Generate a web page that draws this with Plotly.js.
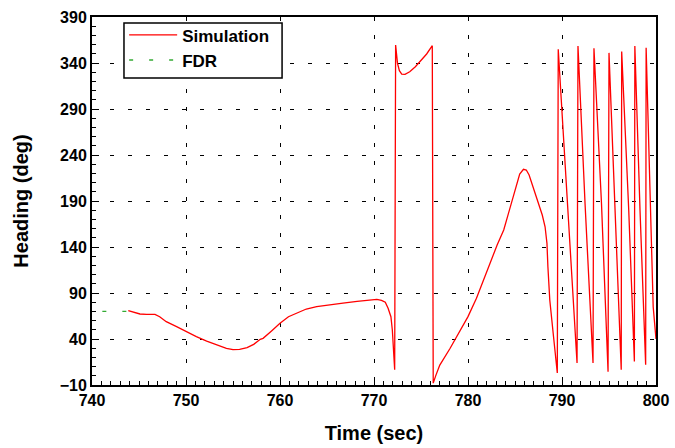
<!DOCTYPE html>
<html>
<head>
<meta charset="utf-8">
<script src="https://cdn.plot.ly/plotly-3.0.1.min.js"></script>
<style>html,body{margin:0;padding:0;background:#fff;}#chart{width:675px;height:448px;}</style>
</head>
<body>
<div id="chart"></div>
<script>
// Simulation heading (deg) vs time (sec)
const simTime = [
  743.86, 744.4, 745.1, 745.8, 746.7, 747.2, 747.9, 749.0, 750.0, 751.1, 752.2, 753.3, 754.3, 755.0, 755.7, 756.5, 757.2, 757.9,
  758.2, 759.1, 760.0, 760.9, 761.8, 762.8, 763.9, 765.3, 766.7, 768.2, 769.6, 770.3, 770.8, 771.2, 771.5, 771.8, 771.95, 772.05, 772.2,
  772.3, 772.5, 772.7, 772.95, 773.3, 773.8, 774.4, 774.9, 775.6, 776.2,
  776.3, 776.6, 777.0, 778.1, 779.1, 780.0, 780.9, 781.6, 782.3, 783.1, 783.8, 784.1, 784.6, 785.2, 785.5, 785.9, 786.2, 786.5, 786.9,
  787.5, 787.9, 788.2, 788.4, 788.5, 788.7, 789.1, 789.5,
  789.6, 790.6, 791.6,
  791.7, 792.45, 793.3,
  793.4, 794.2, 794.9,
  795.0, 795.6, 796.3,
  796.35, 797.1, 797.7,
  797.75, 798.3, 798.9,
  798.95, 799.7, 800.0];
const simHeading = [
  70.8, 69.0, 67.2, 66.8, 66.8, 64.2, 58.8, 53.4, 48.0, 42.5, 37.8, 33.5, 29.9, 28.4, 28.8, 30.6, 34.2, 39.7,
  40.7, 48.7, 57.0, 64.2, 68.6, 72.6, 75.1, 77.3, 79.1, 81.0, 82.7, 83.1, 82.0, 79.9, 73.4, 64.2, 49.8, 31.6, 6.5,
  359.6, 339.7, 331.6, 328.0, 327.7, 330.5, 336.0, 341.4, 349.8, 358.8,
  -8.0, 1.0, 11.7, 29.9, 48.0, 64.3, 84.2, 102.3, 122.3, 142.2, 158.5, 169.3, 187.5, 207.4, 219.3, 224.5, 223.7, 218.3, 206.3,
  189.3, 174.8, 162.0, 144.0, 118.6, 82.4, 42.5, 3.0,
  355.0, 188.0, 14.0,
  358.5, 187.5, 14.0,
  356.0, 187.5, 4.5,
  351.0, 187.5, 6.5,
  352.6, 180.0, 15.5,
  358.5, 180.0, 12.0,
  356.6, 75.0, 40.0];
// FDR heading (deg) vs time (sec)
const fdrTime = [741.1, 744.0];
const fdrHeading = [70.0, 70.0];

const seriesNames = ['Simulation', 'FDR'];
const xTitle = 'Time (sec)';
const yTitle = 'Heading (deg)';

const fontFam = 'Liberation Sans, Arial, Helvetica, sans-serif';

const traces = [
  {x: simTime, y: simHeading, type: 'scatter', mode: 'lines', name: seriesNames[0],
   line: {color: '#ff0000', width: 1.3}},
  {x: fdrTime, y: fdrHeading, type: 'scatter', mode: 'lines', name: seriesNames[1],
   line: {color: '#33aa33', width: 1.4, dash: '4px,16px'}}
];

const axisCommon = {
  showline: true, linecolor: '#000', linewidth: 2, mirror: true,
  showgrid: true, gridcolor: '#000', gridwidth: 1, griddash: '4px,14px',
  zeroline: false, ticks: 'inside', ticklen: 7, tickcolor: '#000', tickwidth: 1,
  tickfont: {family: fontFam, size: 16, color: '#000', weight: 'bold'}
};

const layout = {
  width: 675, height: 448,
  margin: {l: 92, r: 19, t: 17, b: 63},
  paper_bgcolor: '#fff', plot_bgcolor: '#fff',
  showlegend: true,
  legend: {x: 0.057, y: 0.999, xanchor: 'left', yanchor: 'top',
    bgcolor: 'rgba(0,0,0,0)', borderwidth: 0, itemwidth: 48,
    font: {family: fontFam, size: 17, color: '#000', weight: 'bold'}},
  shapes: [
    {type: 'rect', xref: 'paper', yref: 'paper', x0: 0.0567, x1: 0.337, y0: 0.834, y1: 0.984,
     layer: 'above', fillcolor: '#fff', line: {color: '#000', width: 1.5}}
  ],
  xaxis: Object.assign({}, axisCommon, {
    range: [740, 800], tick0: 740, dtick: 10,
    minor: {dtick: 1, ticks: 'inside', ticklen: 4, tickcolor: '#000', showgrid: false},
    title: {text: xTitle, standoff: 18, font: {family: fontFam, size: 20, color: '#000', weight: 'bold'}}
  }),
  yaxis: Object.assign({}, axisCommon, {
    range: [-10, 390], tick0: -10, dtick: 50,
    minor: {dtick: 10, ticks: 'inside', ticklen: 4, tickcolor: '#000', showgrid: false},
    title: {text: yTitle, standoff: 26, font: {family: fontFam, size: 20, color: '#000', weight: 'bold'}}
  })
};

Plotly.newPlot('chart', traces, layout, {displayModeBar: false, staticPlot: true});
</script>
</body>
</html>
